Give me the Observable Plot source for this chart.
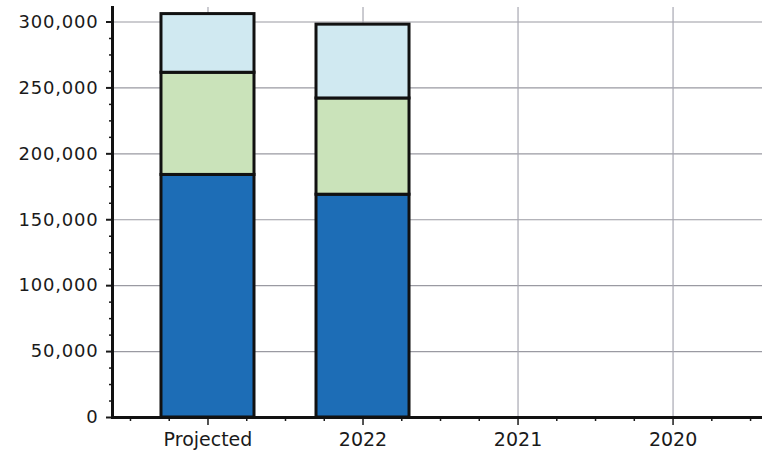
<!DOCTYPE html>
<html>
<head>
<meta charset="utf-8">
<script src="https://cdn.jsdelivr.net/npm/d3@7"></script>
<script src="https://cdn.jsdelivr.net/npm/@observablehq/plot@0.6"></script>
<style>
  html, body { margin: 0; padding: 0; background: #fff; }
  svg { display: block; }
  g[aria-label="y-axis tick label"] text { letter-spacing: 0.8px; }
</style>
</head>
<body>
<div id="chart"></div>
<script>
const categories = ["Projected", "2022", "2021", "2020"];
const seriesNames = ["Base", "Middle", "Top"];
const baseValues   = [184000, 169000, null, null];
const middleValues = [77500, 73000, null, null];
const topValues    = [44500, 56000, null, null];
const yTickValues = [0, 50000, 100000, 150000, 200000, 250000, 300000];
const colors = ["#1d6db6", "#cae3ba", "#d0e9f1"];

// build stacked table
const rows = [];
categories.forEach((c, i) => {
  let acc = 0;
  [baseValues, middleValues, topValues].forEach((arr, s) => {
    const v = arr[i];
    if (v == null) return;
    rows.push({i, category: c, series: seriesNames[s], y1: acc, y2: acc + v});
    acc += v;
  });
});

const catIdx = categories.map((_, i) => i);
const minorX = d3.range(-0.5, 3.51, 0.25).filter(v => Math.abs(v - Math.round(v)) > 1e-6);
const minorY = d3.range(0, 312500, 12500).filter(v => v % 50000 !== 0);

const chart = Plot.plot({
  width: 762,
  height: 458,
  marginLeft: 112,
  marginRight: 0,
  marginTop: 7,
  marginBottom: 41,
  style: {fontFamily: "DejaVu Sans, Verdana, sans-serif", color: "#1a1a1a", background: "#fff"},
  x: {type: "linear", domain: [-0.616, 3.577]},
  y: {domain: [0, 311000]},
  color: {domain: seriesNames, range: colors},
  marks: [
    Plot.gridY(yTickValues.filter(v => v > 0), {stroke: "#9a9aa2", strokeOpacity: 1, strokeWidth: 1.2}),
    Plot.gridX(catIdx, {stroke: "#a8a8b2", strokeOpacity: 1, strokeWidth: 1.2}),
    Plot.rect(rows, {
      x1: d => d.i - 0.3,
      x2: d => d.i + 0.3,
      y1: "y1",
      y2: "y2",
      fill: "series",
      stroke: "#111",
      strokeWidth: 3
    }),
    Plot.axisY({ticks: minorY, tickSize: 3, tickFormat: () => "", strokeWidth: 1.5, label: null}),
    Plot.axisY({ticks: yTickValues, tickSize: 6, tickPadding: 8, tickFormat: d3.format(","), fontSize: 18, strokeWidth: 2, label: null}),
    Plot.axisX({ticks: minorX, tickSize: 4, tickFormat: () => "", strokeWidth: 1.5, label: null}),
    Plot.axisX({ticks: catIdx, tickSize: 8, tickPadding: 7, tickFormat: i => categories[i], fontSize: 19, strokeWidth: 1.5, label: null}),
    Plot.frame({anchor: "left", stroke: "#111", strokeWidth: 3}),
    Plot.ruleY([0], {stroke: "#111", strokeWidth: 3})
  ]
});
document.getElementById("chart").appendChild(chart);
</script>
</body>
</html>
